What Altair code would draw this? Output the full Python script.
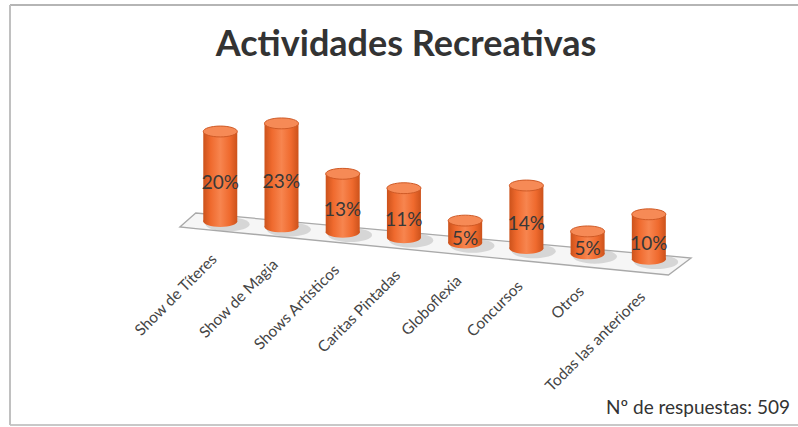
import altair as alt
import numpy as np
import pandas as pd

# Survey results: preferred recreational activities
categories = [
    "Show de Títeres",
    "Show de Magia",
    "Shows Artísticos",
    "Caritas Pintadas",
    "Globoflexia",
    "Concursos",
    "Otros",
    "Todas las anteriores",
]
percent = [20, 23, 13, 11, 5, 14, 5, 10]
responses = 509

title_text = "Actividades Recreativas"
footer_text = f"Nº de respuestas: {responses}"

# Pseudo-3D perspective: each category sits a little lower on a tilted floor
SLOPE = 1.2          # value units the floor drops per category
PX_PER_UNIT = 4.5
BASE_PX = 221.5
X0_PX, STEP_PX = 218.0, 62.0
W, H = 798, 427

x_dom = [(0 - X0_PX) / STEP_PX, (W - X0_PX) / STEP_PX]
y_dom = [(BASE_PX - H) / PX_PER_UNIT, BASE_PX / PX_PER_UNIT]
xs = alt.Scale(domain=x_dom, nice=False, zero=False)
ys = alt.Scale(domain=y_dom, nice=False, zero=False)

df = pd.DataFrame({"actividad": categories, "pct": percent})
df["idx"] = np.arange(len(df))
df["base"] = -df["idx"] * SLOPE
df["top"] = df["base"] + df["pct"]
df["label"] = df["pct"].astype(str) + "%"
df["label_y"] = df["base"] + df["pct"] / 2 - 1.5
df["tick_x"] = df["idx"] - 0.1
df["tick_y"] = df["base"] - 7.8
df["shadow_x"] = df["idx"] + 0.12
df["shadow_y"] = df["base"] - 0.6

# Floor plane (front-left, back-left, back-right, front-right), in axis units
n = len(categories)
fl = (-0.66, -1.22)
bl = (-0.40, 1.89)
br = (n - 1 + 0.69, -(n - 1) * SLOPE + 0.29)
fr = (n - 1 + 0.32, -(n - 1) * SLOPE - 3.49)
fx = [fl[0], bl[0], fr[0], br[0]]
back_x, back_y = [fl[0], bl[0], br[0]], [fl[1], bl[1], br[1]]
front_x, front_y = [fl[0], fr[0], br[0]], [fl[1], fr[1], br[1]]
floor = pd.DataFrame({
    "fx": fx,
    "ftop": np.interp(fx, back_x, back_y),
    "fbot": np.interp(fx, front_x, front_y),
})

ORANGE_SIDE = "#cc521b"
body_fill = alt.LinearGradient(
    gradient="linear",
    stops=[
        alt.GradientStop(color=ORANGE_SIDE, offset=0),
        alt.GradientStop(color="#ef6a2e", offset=0.22),
        alt.GradientStop(color="#f7854f", offset=0.5),
        alt.GradientStop(color="#ef6a2e", offset=0.78),
        alt.GradientStop(color=ORANGE_SIDE, offset=1),
    ],
    x1=0, x2=1, y1=0, y2=0,
)
ELLIPSE = "M -1 0 A 1 0.32 0 1 1 1 0 A 1 0.32 0 1 1 -1 0 Z"
BAR_W = 34

floor_layer = alt.Chart(floor).mark_area(
    fill="#f6f6f6", stroke="#a9a9a9", strokeWidth=1.3
).encode(
    x=alt.X("fx:Q", scale=xs, axis=None),
    y=alt.Y("ftop:Q", scale=ys, axis=None),
    y2="fbot:Q",
)

base = alt.Chart(df)

shadow = base.mark_point(
    shape=ELLIPSE, size=(BAR_W + 10) ** 2, filled=True, fill="#9a9a9a",
    opacity=0.35, strokeWidth=0,
).encode(
    x=alt.X("shadow_x:Q", scale=xs, axis=None),
    y=alt.Y("shadow_y:Q", scale=ys, axis=None),
)

bottom_cap = base.mark_point(
    shape=ELLIPSE, size=BAR_W ** 2, filled=True, fill=body_fill, opacity=1, strokeWidth=0
).encode(
    x=alt.X("idx:Q", scale=xs, axis=None),
    y=alt.Y("base:Q", scale=ys, axis=None),
)

body = base.mark_bar(size=BAR_W, fill=body_fill).encode(
    x=alt.X("idx:Q", scale=xs, axis=None),
    y=alt.Y("top:Q", scale=ys, axis=None),
    y2="base:Q",
)

top_cap = base.mark_point(
    shape=ELLIPSE, size=BAR_W ** 2, filled=True, fill="#f68a56",
    stroke="#cf5a26", strokeWidth=1, opacity=1,
).encode(
    x=alt.X("idx:Q", scale=xs, axis=None),
    y=alt.Y("top:Q", scale=ys, axis=None),
)

values = base.mark_text(
    font="Lato", fontSize=19, color="#383838", baseline="middle", align="center"
).encode(
    x=alt.X("idx:Q", scale=xs, axis=None),
    y=alt.Y("label_y:Q", scale=ys, axis=None),
    text="label:N",
)

ticks = base.mark_text(
    font="Lato", fontSize=15.5, color="#454545", angle=315, align="right", baseline="middle"
).encode(
    x=alt.X("tick_x:Q", scale=xs, axis=None),
    y=alt.Y("tick_y:Q", scale=ys, axis=None),
    text="actividad:N",
)

one = pd.DataFrame({"t": [title_text], "f": [footer_text]})

title = alt.Chart(one).mark_text(
    font="Lato", fontSize=36, fontWeight="bold", color="#333333", align="center", baseline="middle"
).encode(text="t:N", x=alt.value(406), y=alt.value(45))

footer = alt.Chart(one).mark_text(
    font="Lato", fontSize=19, color="#333333", align="right", baseline="middle"
).encode(text="f:N", x=alt.value(790), y=alt.value(408))

# Chart border: left, top and bottom edges (the right edge runs off the canvas)
border = alt.Chart(one)
border_top = border.mark_rule(color="#b5b5b5", strokeWidth=2).encode(
    x=alt.value(10), x2=alt.value(W), y=alt.value(5))
border_bottom = border.mark_rule(color="#c8c8c8", strokeWidth=2).encode(
    x=alt.value(10), x2=alt.value(W), y=alt.value(425))
border_left = border.mark_rule(color="#c0c0c0", strokeWidth=2).encode(
    x=alt.value(10), y=alt.value(5), y2=alt.value(425))

chart = alt.layer(
    border_top, border_bottom, border_left,
    floor_layer, shadow, bottom_cap, body, top_cap, values, ticks, title, footer,
).properties(
    width=W, height=H, padding=0, autosize=alt.AutoSizeParams(type="none"),
    background="white",
).configure_view(stroke=None)

chart.save("out.html", embed_options={"renderer": "svg", "actions": False})
